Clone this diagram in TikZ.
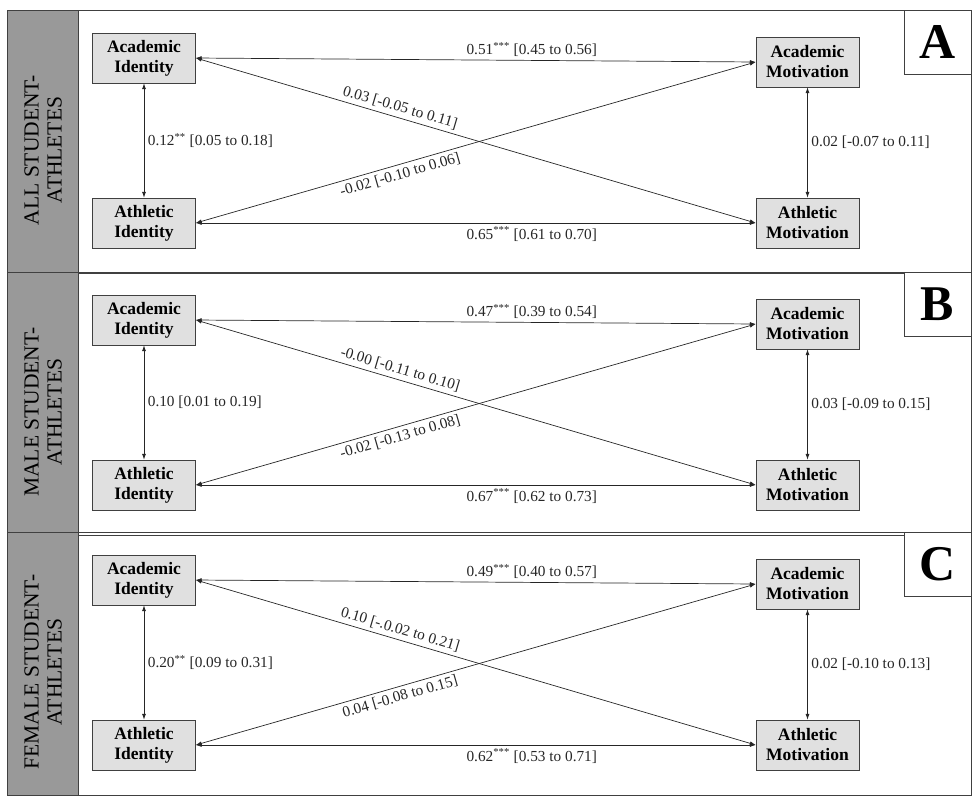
\documentclass[tikz,border=0pt]{standalone}
\usepackage{fontspec}
\setmainfont{Liberation Serif}
\usetikzlibrary{arrows.meta}

\tikzset{
  varbox/.style={draw=black!75, fill=black!12, minimum width=103pt, minimum height=50pt,
    align=center, inner sep=0pt, font=\fontsize{17.5}{20}\selectfont\bfseries},
  link/.style={black!85, line width=0.7pt, {Latex[length=6pt,width=4pt]}-{Latex[length=6pt,width=4pt]}},
  coef/.style={font=\fontsize{15.3}{17}\selectfont, inner sep=3.5pt},
  sidebar/.style={rotate=90, align=center, font=\fontsize{21.5}{23}\selectfont},
}

\begin{document}
\begin{tikzpicture}[x=1pt,y=-1pt]
        \useasboundingbox (0,0) rectangle (972,801);

        \foreach \p/\y/\ttl/\lt/\lb/\ll/\lr/\ld/\lu in {
          A/0/{ALL STUDENT-\\ATHLETES}/{0.51\textsuperscript{***} [0.45 to 0.56]}/{0.65\textsuperscript{***} [0.61 to 0.70]}/{0.12\textsuperscript{**} [0.05 to 0.18]}/{0.02 [-0.07 to 0.11]}/{0.03 [-0.05 to 0.11]}/{-0.02 [-0.10 to 0.06]},
          B/262/{MALE STUDENT-\\ATHLETES}/{0.47\textsuperscript{***} [0.39 to 0.54]}/{0.67\textsuperscript{***} [0.62 to 0.73]}/{0.10 [0.01 to 0.19]}/{0.03 [-0.09 to 0.15]}/{-0.00 [-0.11 to 0.10]}/{-0.02 [-0.13 to 0.08]},
          C/522/{FEMALE STUDENT-\\ATHLETES}/{0.49\textsuperscript{***} [0.40 to 0.57]}/{0.62\textsuperscript{***} [0.53 to 0.71]}/{0.20\textsuperscript{**} [0.09 to 0.31]}/{0.02 [-0.10 to 0.13]}/{0.10 [-.0.02 to 0.21]}/{0.04 [-0.08 to 0.15]}} {
          % panel frame and side strip
          \draw[black!75, fill=black!40] (7,10+\y) rectangle (78,273+\y);
          \draw[black!75] (78,10+\y) rectangle (971,273+\y);
          \node[sidebar] (side-\p) at (43,150+\y) {\ttl};
          \node[draw=black!75, fill=white, minimum width=67pt, minimum height=64pt,
                font=\fontsize{50}{50}\selectfont\bfseries] (tag-\p) at (937.5,42+\y) {\p};

          % variables
          \node[varbox] (acid-\p) at (144,58+\y) {Academic\\Identity};
          \node[varbox] (atid-\p) at (144,223+\y) {Athletic\\Identity};
          \node[varbox] (acmo-\p) at (807.5,62+\y) {Academic\\Motivation};
          \node[varbox] (atmo-\p) at (807.5,223+\y) {Athletic\\Motivation};

          % correlations
          \draw[link] (acid-\p.east) -- node[coef, above, pos=0.6] {\lt} (acmo-\p.west);
          \draw[link] (atid-\p.east) -- node[coef, below, pos=0.6] {\lb} (atmo-\p.west);
          \draw[link] (acid-\p.south) -- node[coef, right] {\ll} (atid-\p.north);
          \draw[link] (acmo-\p.south) -- node[coef, right] {\lr} (atmo-\p.north);
          \draw[link] (acid-\p.east) -- node[coef, above, sloped, pos=0.36] {\ld} (atmo-\p.west);
          \draw[link] (atid-\p.east) -- node[coef, below, sloped, pos=0.36] {\lu} (acmo-\p.west);
        }
    \end{tikzpicture}
\end{document}
